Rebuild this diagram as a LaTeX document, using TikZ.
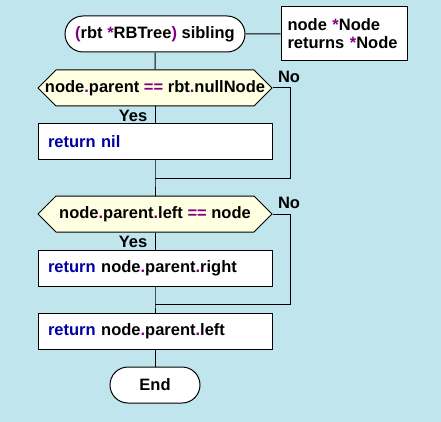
\documentclass[tikz,border=0pt]{standalone}
\usepackage{fontspec}
\setmainfont{Liberation Sans}
\usetikzlibrary{shapes.misc}
\definecolor{bgblue}{RGB}{193,229,236}
\definecolor{condfill}{RGB}{255,255,225}
\definecolor{kwblue}{RGB}{0,0,160}
\definecolor{oppurple}{RGB}{128,0,128}
\newcommand{\kw}[1]{\textcolor{kwblue}{#1}}
\newcommand{\op}[1]{\textcolor{oppurple}{#1}}
\def\condhex(#1){\draw[fill=condfill, shift={(#1)}] (-117,0) -- (-99,-18) -- (99,-18) -- (117,0) -- (99,18) -- (-99,18) -- cycle;}
\tikzset{
	flowtext/.style={font=\bfseries\fontsize{16.5}{18}\selectfont},
	terminal/.style={flowtext, rounded rectangle, draw, fill=white, minimum height=36pt, inner sep=0pt},
	actionbox/.style={flowtext, rectangle, draw, fill=white, minimum height=36pt, text width=214pt, align=left, inner xsep=10pt, inner ysep=0pt},
	parambox/.style={flowtext, rectangle, draw, fill=white, minimum height=54pt, text width=113pt, align=left, inner xsep=6.5pt, inner ysep=0pt},
	condition/.style={flowtext, rectangle, minimum width=234pt, minimum height=36pt, inner sep=0pt},
	flowlabel/.style={flowtext, inner sep=0pt}
}

\begin{document}
\begin{tikzpicture}[x=1pt,y=-1pt,line width=1pt]
			%%%%% START %%%%%
			\fill[bgblue] (0,0) rectangle (441,422);
			\useasboundingbox (0,0) rectangle (441,422);
			
			\node[terminal, minimum width=180pt] (start) at (155,34) {\op{(}rbt \op{*}RBTree\op{)} sibling};
			\node[parambox] (params) at (344,34) {node \op{*}Node\\returns \op{*}Node};
			
			\condhex(155,88)
			\node[condition] (cond1) at (155,88) {node\op{.}parent \op{==} rbt\op{.}nullNode};
			\node[actionbox] (nilret) at (155,142) {\kw{return nil}};
			\coordinate (merge1) at (155,178);
			\coordinate (no1) at (290,178);
			
			\condhex(155,214)
			\node[condition] (cond2) at (155,214) {node\op{.}parent\op{.}left \op{==} node};
			\node[actionbox] (rightret) at (155,268) {\kw{return} node\op{.}parent\op{.}right};
			\coordinate (merge2) at (155,304);
			\coordinate (no2) at (290,304);
			
			\node[actionbox] (leftret) at (155,331) {\kw{return} node\op{.}parent\op{.}left};
			\node[terminal, minimum width=90pt] (stop) at (155,385) {End};
			
			\node[flowlabel] (yes1) at (133,116) {Yes};
			\node[flowlabel] (nolbl1) at (289,77) {No};
			\node[flowlabel] (yes2) at (133,242) {Yes};
			\node[flowlabel] (nolbl2) at (289,203) {No};
			
			\draw (start) -- (params);
			\draw (start) -- (cond1);
			\draw (cond1) -- (nilret);
			\draw (nilret) -- (merge1) -- (cond2);
			\draw (cond1.east) -| (no1) -- (merge1);
			\draw (cond2) -- (rightret);
			\draw (rightret) -- (merge2) -- (leftret);
			\draw (cond2.east) -| (no2) -- (merge2);
			\draw (leftret) -- (stop);
			%%%%% END %%%%%
\end{tikzpicture}
\end{document}
